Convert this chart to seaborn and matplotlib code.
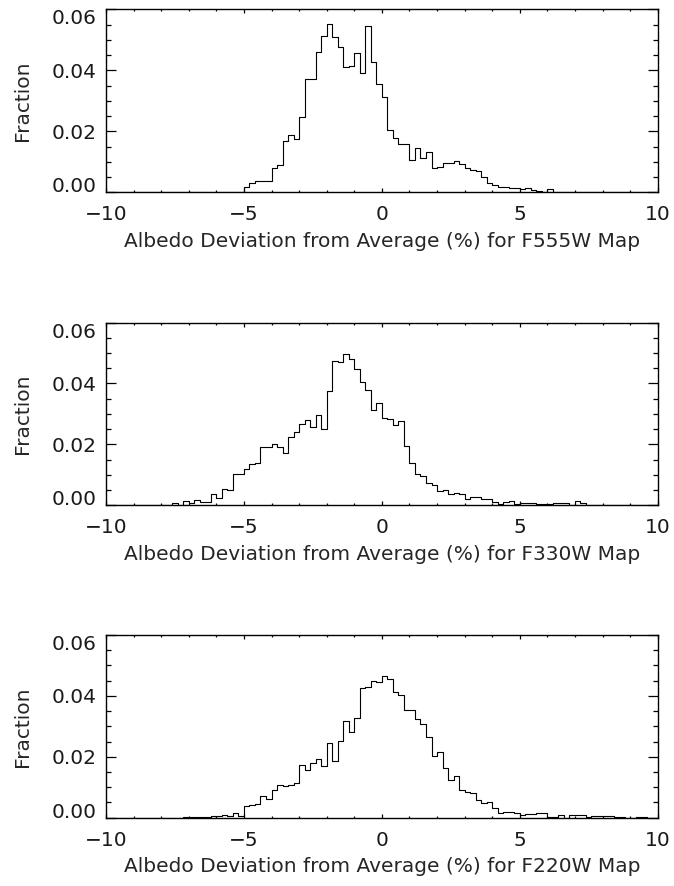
import numpy as np
import pandas as pd
import matplotlib
matplotlib.use("Agg")
import matplotlib.pyplot as plt
import seaborn as sns
from matplotlib.ticker import MultipleLocator, FormatStrFormatter

# ---------------- data (fraction per 0.2-wide bin) ----------------
bin_width = 0.2
x_range = (-10, 10)

f555w_start = -6.0
f555w_vals = [0.0000, 0.0001, 0.0001, 0.0002, 0.0002,
              0.0016, 0.0030, 0.0038, 0.0037, 0.0037,
              0.0079, 0.0090, 0.0168, 0.0189, 0.0174,
              0.0248, 0.0371, 0.0371, 0.0461, 0.0514,
              0.0551, 0.0510, 0.0477, 0.0412, 0.0416,
              0.0456, 0.0393, 0.0546, 0.0428, 0.0357,
              0.0313, 0.0204, 0.0177, 0.0157, 0.0157,
              0.0106, 0.0146, 0.0111, 0.0131, 0.0079,
              0.0084, 0.0095, 0.0095, 0.0104, 0.0092,
              0.0081, 0.0073, 0.0071, 0.0051, 0.0030,
              0.0024, 0.0018, 0.0016, 0.0015, 0.0013,
              0.0011, 0.0015, 0.0009, 0.0005, 0.0002,
              0.0011, 0.0001, 0.0001, 0.0001, 0.0001]

f330w_start = -8.8
f330w_vals = [0.0001, 0.0002, 0.0002, 0.0001, 0.0000,
              0.0000, 0.0008, 0.0000, 0.0013, 0.0006,
              0.0017, 0.0012, 0.0012, 0.0037, 0.0025,
              0.0055, 0.0050, 0.0102, 0.0102, 0.0118,
              0.0134, 0.0138, 0.0191, 0.0191, 0.0201,
              0.0192, 0.0170, 0.0223, 0.0239, 0.0266,
              0.0280, 0.0258, 0.0296, 0.0249, 0.0375,
              0.0473, 0.0471, 0.0498, 0.0479, 0.0449,
              0.0405, 0.0378, 0.0313, 0.0337, 0.0285,
              0.0283, 0.0263, 0.0278, 0.0195, 0.0140,
              0.0102, 0.0096, 0.0072, 0.0067, 0.0048,
              0.0050, 0.0036, 0.0040, 0.0038, 0.0020,
              0.0027, 0.0028, 0.0020, 0.0022, 0.0010,
              0.0005, 0.0012, 0.0014, 0.0003, 0.0006,
              0.0006, 0.0006, 0.0004, 0.0004, 0.0004,
              0.0008, 0.0007, 0.0007, 0.0001, 0.0013,
              0.0006, 0.0001, 0.0001, 0.0001]

f220w_start = -7.2
f220w_vals = [0.0001, 0.0001, 0.0001, 0.0003, 0.0003,
              0.0004, 0.0004, 0.0008, 0.0006, 0.0015,
              0.0004, 0.0039, 0.0042, 0.0045, 0.0072,
              0.0060, 0.0091, 0.0108, 0.0105, 0.0108,
              0.0115, 0.0172, 0.0157, 0.0178, 0.0192,
              0.0171, 0.0244, 0.0187, 0.0253, 0.0319,
              0.0280, 0.0326, 0.0427, 0.0430, 0.0450,
              0.0447, 0.0465, 0.0455, 0.0412, 0.0403,
              0.0354, 0.0354, 0.0323, 0.0308, 0.0266,
              0.0202, 0.0214, 0.0162, 0.0123, 0.0138,
              0.0090, 0.0085, 0.0080, 0.0058, 0.0049,
              0.0053, 0.0031, 0.0016, 0.0018, 0.0020,
              0.0014, 0.0009, 0.0012, 0.0011, 0.0016,
              0.0014, 0.0003, 0.0001, 0.0008, 0.0000,
              0.0008, 0.0008, 0.0008, 0.0003, 0.0005,
              0.0007, 0.0007, 0.0006, 0.0002, 0.0001,
              0.0000, 0.0000, 0.0001, 0.0001]

panels = [("F555W", f555w_start, f555w_vals),
          ("F330W", f330w_start, f330w_vals),
          ("F220W", f220w_start, f220w_vals)]

x_ticks = [-10, -5, 0, 5, 10]
y_ticks = [0.00, 0.02, 0.04, 0.06]
y_label = "Fraction"
x_label_tpl = "Albedo Deviation from Average (%) for {} Map"

# ---------------- style ----------------
sns.set_theme(style="ticks")
plt.rcParams["font.family"] = ["DejaVu Sans"]
plt.rcParams["axes.linewidth"] = 1.0
TXT = "#1a1a1a"
plt.rcParams["text.color"] = TXT
plt.rcParams["xtick.labelcolor"] = TXT
plt.rcParams["ytick.labelcolor"] = TXT
plt.rcParams["xtick.color"] = "black"
plt.rcParams["ytick.color"] = "black"

FS = 14.5

fig = plt.figure(figsize=(6.74, 8.86), dpi=100)
bottoms = [0.7830, 0.4297, 0.0771]
n_edges = int(round((x_range[1] - x_range[0]) / bin_width)) + 1
edges = [round(x_range[0] + i * bin_width, 1) for i in range(n_edges)]

axes = []
for (name, start, vals), b in zip(panels, bottoms):
    ax = fig.add_axes([0.1573, b, 0.8185, 0.2063])
    axes.append(ax)
    centers = start + bin_width / 2 + bin_width * np.arange(len(vals))
    df = pd.DataFrame({"dev": centers, "frac": np.asarray(vals, dtype=float)})
    sns.histplot(data=df, x="dev", weights="frac", bins=edges, element="step",
                 fill=False, color="black", linewidth=0.8, ax=ax)
    ax.set_xlim(*x_range)
    ax.set_ylim(0, 0.06)
    ax.set_xticks(x_ticks)
    ax.set_yticks(y_ticks)
    ax.xaxis.set_minor_locator(MultipleLocator(1))
    ax.yaxis.set_minor_locator(MultipleLocator(0.005))
    ax.yaxis.set_major_formatter(FormatStrFormatter("%.2f"))
    ax.tick_params(axis="x", which="major", direction="in", length=2.8,
                   width=0.9, top=True, bottom=True, pad=9.5, labelsize=FS)
    ax.tick_params(axis="x", which="minor", direction="in", length=1.4,
                   width=0.9, top=True, bottom=True)
    ax.tick_params(axis="y", which="major", direction="in", length=7.5,
                   width=0.9, left=True, right=True, pad=6.5, labelsize=FS)
    ax.tick_params(axis="y", which="minor", direction="in", length=3.8,
                   width=0.9, left=True, right=True)
    for s in ax.spines.values():
        s.set_color("black")
        s.set_linewidth(1.0)
    ax.set_xlabel(x_label_tpl.format(name), fontsize=FS, va="center")
    ax.xaxis.set_label_coords(0.5, -0.268)
    ax.set_ylabel(y_label, fontsize=FS, va="center")
    ax.yaxis.set_label_coords(-0.152, 0.5)

fig.canvas.draw()
for ax in axes:
    ticks = ax.yaxis.get_major_ticks()
    ticks[0].label1.set_va("baseline")
    ticks[-1].label1.set_va("top")

fig.savefig("out.png", dpi=100)
